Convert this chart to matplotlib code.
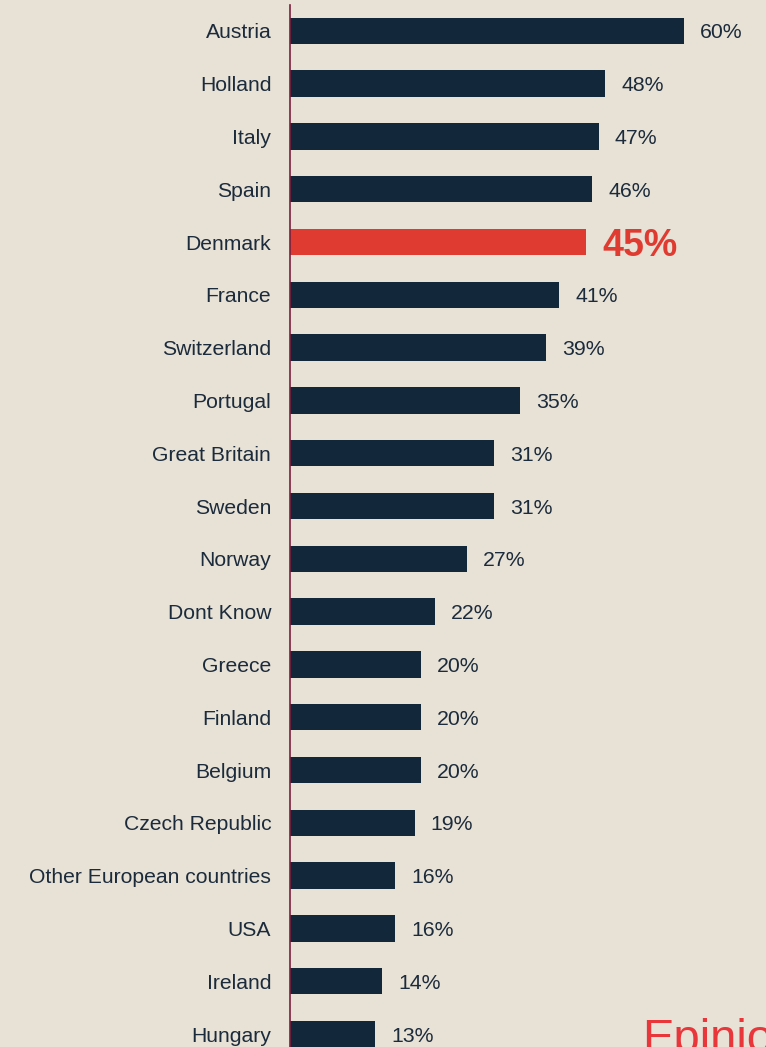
import matplotlib
import matplotlib.pyplot as plt

matplotlib.use("Agg")

countries = [
    "Austria", "Holland", "Italy", "Spain", "Denmark", "France", "Switzerland",
    "Portugal", "Great Britain", "Sweden", "Norway", "Dont Know", "Greece",
    "Finland", "Belgium", "Czech Republic", "Other European countries", "USA",
    "Ireland", "Hungary",
]
shares = [60, 48, 47, 46, 45, 41, 39, 35, 31, 31, 27, 22, 20, 20, 20, 19, 16, 16, 14, 13]
highlight = "Denmark"

BG = "#E7E1D6"
NAVY = "#13273B"
RED = "#E03B30"
TEXT = "#1C2B3B"

plt.rcParams["font.family"] = ["Liberation Sans", "DejaVu Sans"]

W, H = 766, 1047
fig = plt.figure(figsize=(W / 100, H / 100), dpi=100, facecolor=BG)
ax = fig.add_axes([290 / W, 0, 1 - 290 / W, 1 - 5 / H])
ax.set_facecolor(BG)

colors = [RED if c == highlight else NAVY for c in countries]
ypos = list(range(len(countries)))
ax.barh(ypos, shares, height=0.5, color=colors, zorder=2)

ax.set_xlim(0, 476 / 6.57)
ax.set_ylim(len(countries) - 1 + 0.246, -0.49)

for y, c, v in zip(ypos, countries, shares):
    if c == highlight:
        ax.annotate(f"{v}%", (v, y), xytext=(12, -2.5), textcoords="offset points",
                    va="center", ha="left", fontsize=27, fontweight="bold", color=RED)
    else:
        ax.annotate(f"{v}%", (v, y), xytext=(11.5, -1.5), textcoords="offset points",
                    va="center", ha="left", fontsize=15.3, color=TEXT)

ax.set_yticks(ypos)
ax.set_yticklabels(countries, fontsize=15.2, color=TEXT)
ax.tick_params(axis="y", length=0, pad=13.5)
ax.set_xticks([])

for side in ("top", "right", "bottom"):
    ax.spines[side].set_visible(False)
ax.spines["left"].set_color("#7A1F3D")
ax.spines["left"].set_linewidth(1.2)

# brand mark sits in the lower-right corner, running off the page edge
fig.text(642 / W, 1 - 1018 / H, "Epinion", color="#E8363A", fontsize=34,
         ha="left", va="top")

fig.savefig("out.png", dpi=100, facecolor=BG)
